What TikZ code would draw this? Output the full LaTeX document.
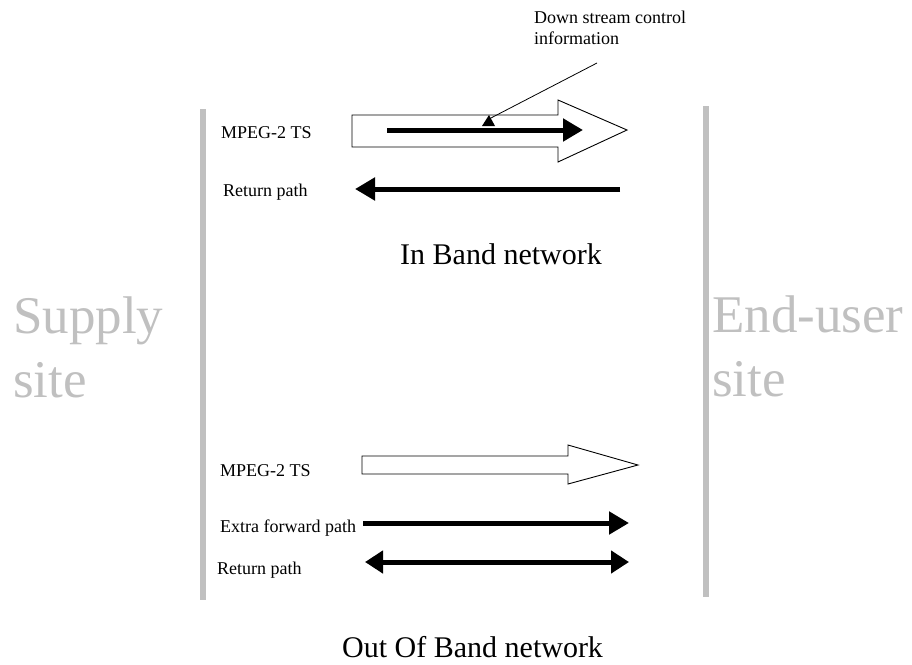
\documentclass[tikz,border=0pt]{standalone}
\usepackage{fontspec}
\setmainfont{Liberation Serif}
\usetikzlibrary{arrows.meta}
\definecolor{siteGray}{RGB}{192,192,192}
\tikzset{
  x=1pt, y=-1pt,
  lbl/.style={anchor=base west, inner sep=0pt, font=\fontsize{18}{21}\selectfont},
  title/.style={anchor=base west, inner sep=0pt, font=\fontsize{30}{36}\selectfont},
  site/.style={anchor=north west, inner sep=0pt, align=left, text=siteGray,
    font=\fontsize{53}{64}\selectfont},
  divider/.style={siteGray, line width=6pt},
  blockarrow/.style={draw=black, fill=white, line width=0.9pt, line join=miter},
  fatarrow/.style={line width=5pt, -{Triangle[length=20pt,width=22pt]}},
  fatboth/.style={line width=5pt, {Triangle[length=18pt,width=22pt]}-{Triangle[length=18pt,width=22pt]}},
  leader/.style={line width=0.8pt}
}
\begin{document}
\begin{tikzpicture}
\useasboundingbox (0,0) rectangle (912,664);

% site dividers
\draw[divider] (203,109) -- (203,600);
\draw[divider] (706,106) -- (706,597);

% site names
\node[site] (supply) at (13,297) {Supply\\site};
\node[site] (enduser) at (712,296) {End-user\\site};

% in band network
\draw[blockarrow] (352,115) -- (558,115) -- (558,100) -- (627,130)
  -- (558,162) -- (558,147) -- (352,147) -- cycle;
\coordinate (dsA) at (387,130);
\coordinate (dsB) at (583,130);
\draw[fatarrow] (dsA) -- (dsB);

\coordinate (rtA) at (620,189);
\coordinate (rtB) at (355,189);
\draw[fatarrow] (rtA) -- (rtB);

\node[lbl] (mpegIn) at (221,138) {MPEG-2 TS};
\node[lbl] (retIn) at (223,196) {Return path};
\node[title] (inband) at (400,264) {In Band network};

% control information callout
\node[anchor=north west, inner sep=0pt, align=left,
  font=\fontsize{18}{21}\selectfont] (dsinfo) at (534,11)
  {Down stream control\\information};
\coordinate (leadA) at (597,63);
\coordinate (leadB) at (489,119);
\draw[leader] (leadA) -- (leadB);
\fill (482,126) -- (489,115) -- (495,126) -- cycle;

% out of band network
\draw[blockarrow] (362,456) -- (568,456) -- (568,445) -- (638,465)
  -- (568,484) -- (568,474) -- (362,474) -- cycle;
\coordinate (efA) at (363,523);
\coordinate (efB) at (629,523);
\draw[fatarrow] (efA) -- (efB);
\coordinate (rbA) at (365,562);
\coordinate (rbB) at (629,562);
\draw[fatboth] (rbA) -- (rbB);

\node[lbl] (mpegOut) at (220,476) {MPEG-2 TS};
\node[lbl] (extra) at (220,532) {Extra forward path};
\node[lbl] (retOut) at (217,574) {Return path};
\node[title] (outband) at (342,657) {Out Of Band network};
\end{tikzpicture}
\end{document}
